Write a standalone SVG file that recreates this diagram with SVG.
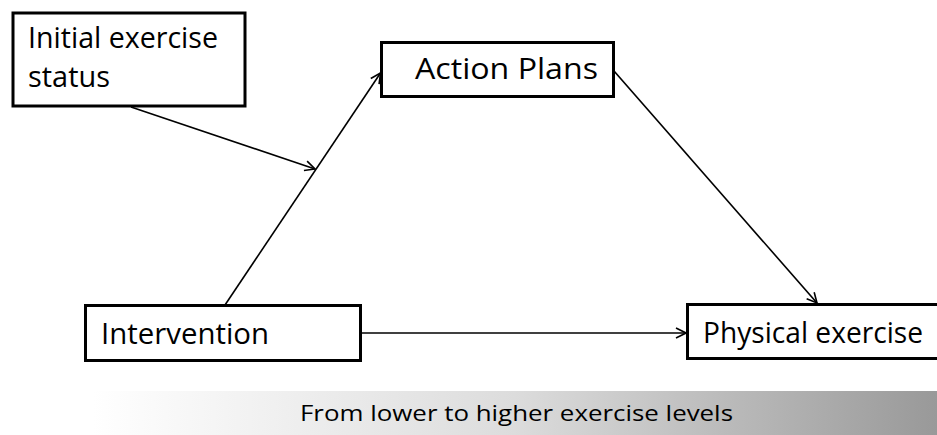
<svg xmlns="http://www.w3.org/2000/svg" width="937" height="435" viewBox="0 0 937 435">
<style>
.box{fill:#fff;stroke:#000;stroke-width:3}
.t{font-family:"Open Sans","Liberation Sans",sans-serif;font-size:28.5px;fill:#000}
.b{font-family:"Open Sans","Liberation Sans",sans-serif;font-size:22px;fill:#000}
.c{fill:none;stroke:#000;stroke-width:1.6}
</style>
<defs>
<marker id="arr" viewBox="0 0 12 12" refX="11" refY="6" markerWidth="12" markerHeight="12" markerUnits="userSpaceOnUse" orient="auto">
<path d="M1,1 L11,6 L1,11" fill="none" stroke="#000" stroke-width="1.6"/>
</marker>
<linearGradient id="g" x1="0" y1="0" x2="1" y2="0">
<stop offset="0" stop-color="#ffffff"/>
<stop offset="0.5" stop-color="#dcdcdc"/>
<stop offset="1" stop-color="#999999"/>
</linearGradient>
</defs>
<rect x="93" y="391" width="844" height="44" fill="url(#g)"/>
<text class="b" x="300" y="421" textLength="433" lengthAdjust="spacingAndGlyphs">From lower to higher exercise levels</text>
<g id="connectors">
<line class="c" x1="225" y1="305" x2="380.5" y2="73" marker-end="url(#arr)"/>
<line class="c" x1="131" y1="107" x2="315" y2="169" marker-end="url(#arr)"/>
<line class="c" x1="614" y1="71" x2="817" y2="303" marker-end="url(#arr)"/>
<line class="c" x1="361" y1="333" x2="686" y2="333" marker-end="url(#arr)"/>
</g>
<g id="initial">
<rect class="box" x="13" y="13" width="232" height="93"/>
<text class="t" x="28" y="48" textLength="190" lengthAdjust="spacingAndGlyphs">Initial exercise</text>
<text class="t" x="28" y="87" textLength="82" lengthAdjust="spacingAndGlyphs">status</text>
</g>
<g id="action">
<rect class="box" x="381.5" y="42.5" width="232" height="54"/>
<text class="t" x="415" y="79" textLength="183" lengthAdjust="spacingAndGlyphs">Action Plans</text>
</g>
<g id="intervention">
<rect class="box" x="85.5" y="305.5" width="275" height="55"/>
<text class="t" x="101" y="344" textLength="168" lengthAdjust="spacingAndGlyphs">Intervention</text>
</g>
<g id="physical">
<rect class="box" x="687.5" y="304.5" width="260" height="54"/>
<text class="t" x="703" y="343" textLength="220" lengthAdjust="spacingAndGlyphs">Physical exercise</text>
</g>
</svg>
